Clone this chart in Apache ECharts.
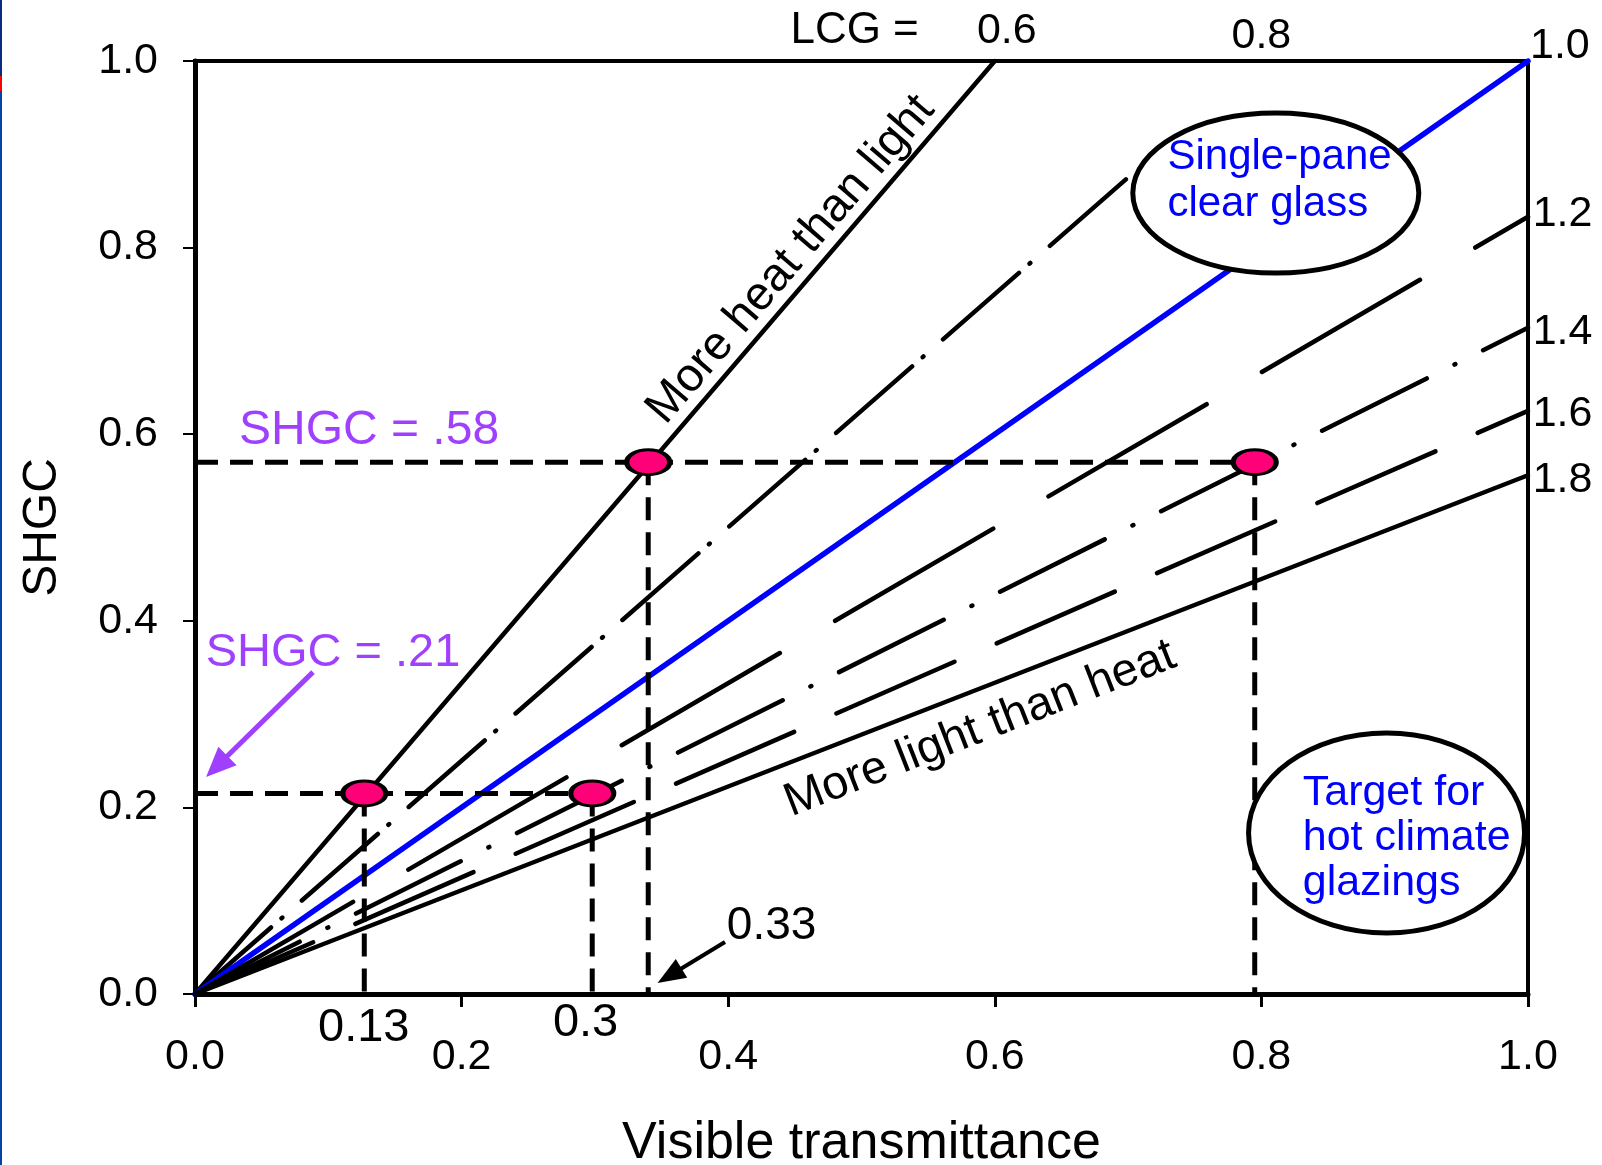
<!DOCTYPE html>
<html>
<head>
<meta charset="utf-8">
<script src="https://cdn.jsdelivr.net/npm/echarts@6/dist/echarts.min.js"></script>
<style>
html, body { margin: 0; padding: 0; background: #fff; }
#chart { width: 1602px; height: 1165px; }
</style>
</head>
<body>
<div id="chart"></div>
<script>
// LSG lines (SHGC = VT / LSG), end points
const lsgLabels = ['0.6', '0.8', '1.0', '1.2', '1.4', '1.6', '1.8']
const lsgEndVT = [0.6, 0.703, 1.0, 1.0, 1.0, 1.0, 1.0]
const lsgEndSHGC = [1.0, 0.879, 1.0, 0.833, 0.714, 0.625, 0.556]

// glazing points
const pointVT = [0.127, 0.298, 0.34, 0.795]
const pointSHGC = [0.215, 0.215, 0.57, 0.57]

// axis ticks
const xTicks = [0, 0.2, 0.4, 0.6, 0.8, 1.0]
const yTicks = [0, 0.2, 0.4, 0.6, 0.8, 1.0]

const FONT = '"Liberation Sans", Arial, sans-serif'
const PURPLE = '#a040ff'
const BLUE = '#0000ff'

// line look per LSG value
const lsgStyles = [
  { color: '#000', width: 4.5, type: 'solid' },
  { color: '#000', width: 4.5, type: [101, 14, 1, 26] },
  { color: BLUE, width: 5.5, type: 'solid' },
  { color: '#000', width: 4.5, type: [183, 64] },
  { color: '#000', width: 4.5, type: [117, 31, 1, 31] },
  { color: '#000', width: 4.5, type: [129, 46] },
  { color: '#000', width: 4.5, type: 'solid' }
]

const chart = echarts.init(document.getElementById('chart'))

const series = []
lsgLabels.forEach((name, i) => {
  series.push({
    name: 'LSG ' + name,
    type: 'line',
    data: [[0, 0], [lsgEndVT[i], lsgEndSHGC[i]]],
    showSymbol: false,
    silent: true,
    z: 2,
    lineStyle: { color: lsgStyles[i].color, width: lsgStyles[i].width, type: lsgStyles[i].type, cap: 'round' }
  })
})

// dashed guides from the points to the axes
const guideStyle = { color: '#000', width: 5, type: [23, 12] }
const guides = [
  [[0, pointSHGC[3]], [pointVT[3], pointSHGC[3]]],
  [[0, pointSHGC[1]], [pointVT[1], pointSHGC[1]]]
]
pointVT.forEach((v, i) => guides.push([[v, pointSHGC[i]], [v, 0]]))
guides.forEach((g) => {
  series.push({
    type: 'line',
    data: g,
    showSymbol: false,
    silent: true,
    z: 3,
    lineStyle: guideStyle
  })
})

series.push({
  type: 'scatter',
  data: pointVT.map((v, i) => [v, pointSHGC[i]]),
  symbol: 'path://M0,50 A50,50 0 1,1 100,50 A50,50 0 1,1 0,50 Z',
  symbolSize: [43, 25],
  z: 5,
  itemStyle: { color: '#ff0078', borderColor: '#000', borderWidth: 4, opacity: 1 }
})

const axisLabel = {
  fontFamily: FONT,
  fontSize: 43,
  color: '#000',
  formatter: (v) => v.toFixed(1)
}

chart.setOption({
  animation: false,
  backgroundColor: '#fff',
  grid: {
    left: 195,
    right: 74,
    top: 61,
    bottom: 171,
    containLabel: false,
    outerBoundsMode: 'none',
    show: true,
    borderColor: '#000',
    borderWidth: 4,
    backgroundColor: 'transparent'
  },
  xAxis: {
    type: 'value',
    min: xTicks[0],
    max: xTicks[xTicks.length - 1],
    interval: 0.2,
    name: 'Visible transmittance',
    nameLocation: 'middle',
    nameGap: 124,
    nameTextStyle: { fontFamily: FONT, fontSize: 52, color: '#000' },
    axisLine: { show: true, lineStyle: { color: '#000', width: 5 } },
    axisTick: { show: true, inside: false, length: 13, lineStyle: { color: '#000', width: 3 } },
    axisLabel: Object.assign({ margin: 42 }, axisLabel),
    splitLine: { show: false }
  },
  yAxis: {
    type: 'value',
    min: yTicks[0],
    max: yTicks[yTicks.length - 1],
    interval: 0.2,
    name: 'SHGC',
    nameLocation: 'middle',
    nameGap: 128,
    nameTextStyle: { fontFamily: FONT, fontSize: 48, color: '#000' },
    axisLine: { show: true, lineStyle: { color: '#000', width: 5 } },
    axisTick: { show: true, inside: false, length: 12, lineStyle: { color: '#000', width: 2 } },
    axisLabel: Object.assign({ margin: 37 }, axisLabel),
    splitLine: { show: false }
  },
  series: series
})

// annotations, placed in data coordinates
function px(p) {
  return chart.convertToPixel({ gridIndex: 0 }, p)
}

function text(str, pos, o) {
  const p = px(pos)
  return {
    type: 'text',
    x: p[0],
    y: p[1],
    rotation: ((o.rotate || 0) * Math.PI) / 180,
    z: 20,
    style: {
      text: str,
      fill: o.color || '#000',
      fontFamily: FONT,
      fontSize: o.size || 42,
      align: o.align || 'center',
      verticalAlign: 'middle',
      lineHeight: o.lineHeight
    }
  }
}

function arrow(from, to, color, w, headLen, headW) {
  const a = px(from)
  const b = px(to)
  const dx = b[0] - a[0]
  const dy = b[1] - a[1]
  const L = Math.hypot(dx, dy)
  const ux = dx / L
  const uy = dy / L
  const bx = b[0] - ux * headLen
  const by = b[1] - uy * headLen
  return [
    {
      type: 'line',
      z: 20,
      shape: { x1: a[0], y1: a[1], x2: bx + ux * 3, y2: by + uy * 3 },
      style: { stroke: color, lineWidth: w }
    },
    {
      type: 'polygon',
      z: 20,
      shape: { points: [[b[0], b[1]], [bx - uy * headW, by + ux * headW], [bx + uy * headW, by - ux * headW]] },
      style: { fill: color }
    }
  ]
}

function ellipse(center, rx, ry) {
  const c = px(center)
  return {
    type: 'ellipse',
    z: 15,
    shape: { cx: c[0], cy: c[1], rx: rx, ry: ry },
    style: { fill: '#fff', stroke: '#000', lineWidth: 5 }
  }
}

const graphics = [
  // slide edge
  { type: 'rect', z: 30, shape: { x: 0, y: 0, width: 2, height: 1165 }, style: { fill: '#0044aa' } },
  { type: 'rect', z: 31, shape: { x: 0, y: 0, width: 2, height: 76 }, style: { fill: '#0a2a80' } },
  { type: 'rect', z: 31, shape: { x: 0, y: 76, width: 2, height: 15 }, style: { fill: '#ff0000' } },

  ellipse([0.8108, 0.8585], 143, 80),
  ellipse([0.8939, 0.1726], 138, 100),
  text('Single-pane\nclear glass', [0.7295, 0.872], { color: BLUE, size: 42, align: 'left', lineHeight: 47 }),
  text('Target for\nhot climate\nglazings', [0.831, 0.167], { color: BLUE, size: 43, align: 'left', lineHeight: 45 }),

  text('More heat than light', [0.447, 0.787], { size: 47, rotate: 49.4 }),
  text('More light than heat', [0.589, 0.284], { size: 47, rotate: 21.3 }),

  text('SHGC = .58', [0.033, 0.604], { color: PURPLE, size: 48, align: 'left' }),
  text('SHGC = .21', [0.008, 0.365], { color: PURPLE, size: 47, align: 'left' }),
  ...arrow([0.0885, 0.345], [0.0083, 0.2326], PURPLE, 5, 30, 13),

  text('0.13', [0.1266, -0.037], { size: 47 }),
  text('0.3', [0.293, -0.031], { size: 47 }),
  text('0.33', [0.399, 0.073], { size: 46, align: 'left' }),
  ...arrow([0.3976, 0.0557], [0.347, 0.0118], '#000', 4, 28, 11),

  text('LCG =', [0.543, 1.032], { size: 44, align: 'right' }),
  text(lsgLabels[0], [0.609, 1.032], { size: 43 }),
  text(lsgLabels[1], [0.8, 1.027], { size: 43 }),
  text(lsgLabels[2], [1.0015, 1.016], { size: 43, align: 'left' }),
  text(lsgLabels[3], [1.0035, 0.836], { size: 43, align: 'left' }),
  text(lsgLabels[4], [1.0035, 0.709], { size: 43, align: 'left' }),
  text(lsgLabels[5], [1.0035, 0.622], { size: 43, align: 'left' }),
  text(lsgLabels[6], [1.0035, 0.551], { size: 43, align: 'left' })
]

chart.setOption({ graphic: graphics })

window.addEventListener('resize', () => chart.resize())
</script>
</body>
</html>
